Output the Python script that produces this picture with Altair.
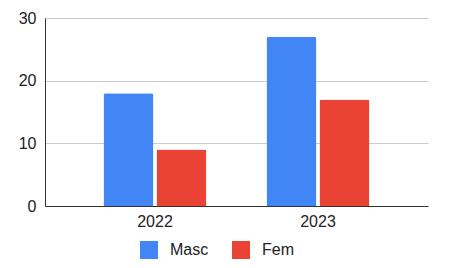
import altair as alt
import pandas as pd

years = ["2022", "2023"]
series = ["Masc", "Fem"]
masc = [18, 27]
fem = [9, 17]
colors = ["#4285F4", "#EA4335"]

rows = []
for i, y in enumerate(years):
    rows.append({"year": y, "sex": "Masc", "value": masc[i]})
    rows.append({"year": y, "sex": "Fem", "value": fem[i]})
df = pd.DataFrame(rows)

chart = alt.Chart(df).mark_bar(cornerRadiusTopLeft=2, cornerRadiusTopRight=2).encode(
    x=alt.X("year:N", sort=years, title=None,
            scale=alt.Scale(paddingInner=0, paddingOuter=0.175),
            axis=alt.Axis(labelAngle=0, ticks=False, domainColor="#333333", domainWidth=1,
                          labelFont="Liberation Sans", labelFontSize=16, labelColor="#222222",
                          labelPadding=7)),
    xOffset=alt.XOffset("sex:N", sort=series,
                        scale=alt.Scale(paddingInner=0.057, paddingOuter=0.566)),
    y=alt.Y("value:Q", title=None,
            scale=alt.Scale(domain=[0, 30]),
            axis=alt.Axis(values=[0, 10, 20, 30], ticks=False, domainColor="#333333",
                          gridColor="#cccccc", labelFont="Liberation Sans", labelFontSize=16,
                          labelColor="#222222", labelPadding=9)),
    color=alt.Color("sex:N", sort=series,
                    scale=alt.Scale(domain=series, range=colors),
                    legend=alt.Legend(title=None, orient="none", direction="horizontal",
                                      legendX=95, legendY=223, symbolType="square",
                                      symbolSize=324, symbolStrokeWidth=0,
                                      labelFont="Liberation Sans", labelFontSize=16,
                                      labelColor="#222222", labelOffset=12, columnPadding=23)),
).properties(
    width=383, height=188,
    autosize=alt.AutoSizeParams(type="none"),
    padding={"left": 45, "top": 18, "right": 30, "bottom": 62},
    background="white",
).configure_view(stroke=None)

chart.save("out.html", embed_options={"renderer": "svg", "actions": False})
